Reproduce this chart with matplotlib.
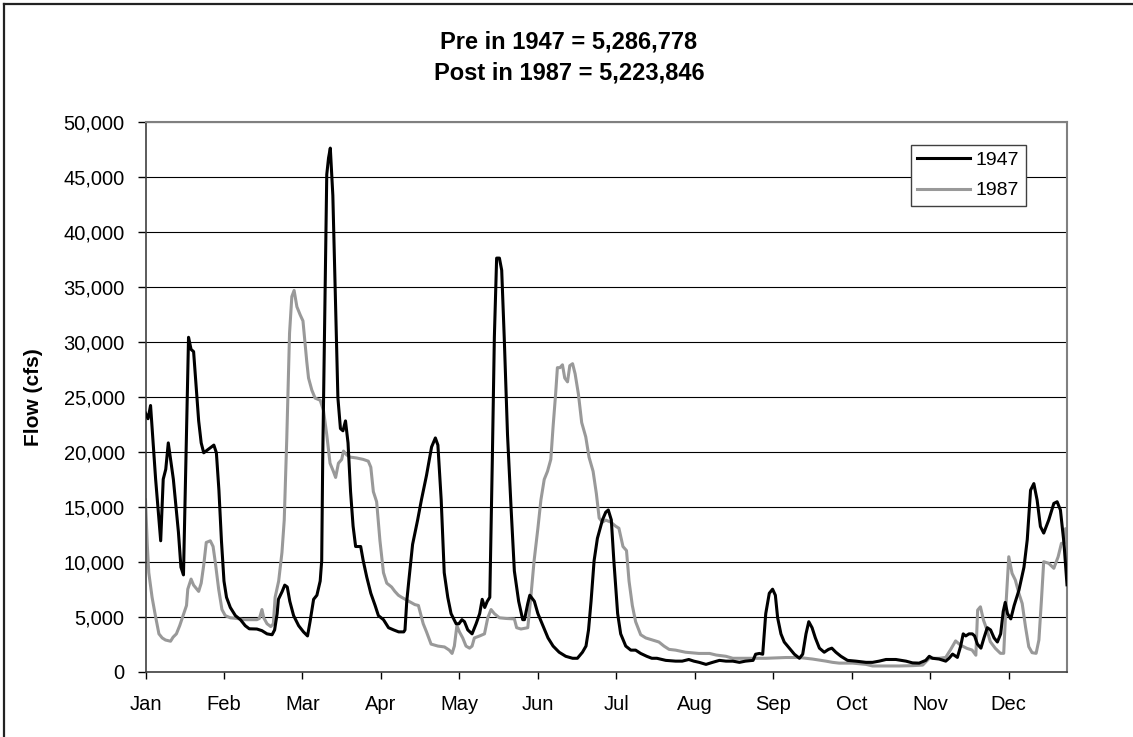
import matplotlib
matplotlib.use('Agg')
import matplotlib.pyplot as plt
from matplotlib.lines import Line2D
from matplotlib.ticker import FuncFormatter

# daily flow (day of year, cfs)
days_1947 = [0, 1, 2, 4, 6, 7, 8, 9, 11, 13, 14, 15, 17, 18, 19, 20, 21, 22, 23, 25,
             27, 28, 29, 30, 31, 32, 33.5, 35.5, 37.5, 39.4, 41, 44, 46, 48, 50, 51, 52, 52.5, 54, 55,
             56, 57, 58.5, 60.5, 62.4, 64, 65, 66.4, 67.7, 69, 69.6, 70, 70.7, 71.6, 72.3, 73, 74, 75, 76, 77,
             78, 79, 80, 81, 82, 83, 85, 86, 87.4, 89, 90.7, 92, 94, 96, 98, 100, 102, 102.5, 103.2, 104,
             105.5, 107.5, 109, 111, 113, 114.5, 115.5, 116.8, 118, 119.4, 120.7, 122.7, 123.8, 125, 126, 127.3, 129, 130.6, 132, 133,
             134, 135, 136, 137, 137.8, 138.7, 139.8, 140.7, 141.7, 143, 144.4, 145.7, 147.4, 149, 149.7, 151, 151.8, 153.6, 155, 157,
             159, 161, 163.4, 166, 168.7, 170.6, 172.6, 174, 175, 176, 177.2, 178.5, 180.5, 181.8, 182.8, 184, 185, 186.5, 187.7, 189.7,
             191.7, 193.6, 195.6, 198, 200, 202, 205.5, 209.4, 212, 214.6, 216.6, 218.7, 221.4, 224, 226.7, 229.3, 232, 234.6, 237, 240,
             241, 242.5, 243.8, 245, 246.4, 247.7, 248.8, 249.7, 251, 252.3, 254.3, 256.3, 258.3, 259.6, 260.9, 262, 263.3, 264.6, 266.2, 268.1,
             269.8, 271.1, 272.7, 274.7, 277.3, 280.6, 284.6, 287.2, 289.8, 292.5, 296.4, 300.4, 303, 305.6, 308.2, 309.6, 310.9, 313.5, 316.1, 317.4,
             318.8, 320.7, 322, 323, 324, 325.3, 326.6, 327.5, 328.6, 330, 331.2, 332.5, 333.8, 335.2, 336.5, 337.8, 338.8, 339.6, 340.5, 341.8,
             343.1, 345, 347, 348.3, 349.6, 350.9, 352.2, 353.5, 354.8, 356.8, 358.8, 360.1, 361.4, 362.8, 364]
flow_1947 = [23500, 23000, 24200, 17500, 11900, 17500, 18400, 20800, 17500, 12700, 9500, 8800, 30400, 29300, 29100, 26000, 22800, 20800, 19900, 20250,
             20600, 19900, 16500, 11900, 8240, 6760, 5840, 5100, 4730, 4180, 3900, 3880, 3730, 3440, 3360, 3800, 5280, 6580, 7300, 7870,
             7700, 6400, 5100, 4180, 3620, 3250, 4545, 6580, 6950, 8240, 10090, 19300, 30400, 45200, 46700, 47600, 43300, 34100, 24900, 22100,
             21900, 22800, 20800, 16370, 13230, 11380, 11380, 10090, 8600, 7130, 6020, 5100, 4730, 4000, 3800, 3620, 3620, 3800, 6400, 8240,
             11570, 13800, 15630, 17850, 20430, 21250, 20600, 15630, 9000, 6760, 5280, 4360, 4360, 4730, 4545, 3800, 3440, 4360, 5280, 6580,
             5840, 6400, 6760, 19300, 30400, 37600, 37600, 36500, 30400, 21540, 14900, 9160, 6400, 4730, 4730, 6200, 6950, 6400, 5280, 4180,
             3070, 2330, 1770, 1400, 1220, 1220, 1770, 2330, 3800, 6400, 10090, 12120, 13800, 14500, 14700, 13800, 10090, 5280, 3440, 2330,
             1960, 1960, 1660, 1400, 1220, 1220, 1030, 960, 960, 1110, 960, 850, 665, 850, 1030, 960, 960, 850, 960, 1030,
             1590, 1660, 1590, 5280, 7130, 7500, 6950, 4900, 3440, 2700, 2140, 1590, 1220, 1590, 3440, 4545, 4000, 3070, 2140, 1770,
             2030, 2140, 1770, 1400, 1030, 960, 850, 850, 960, 1110, 1110, 960, 800, 780, 1030, 1400, 1220, 1150, 960, 1220,
             1600, 1300, 2330, 3440, 3250, 3440, 3440, 3250, 2510, 2140, 3070, 4000, 3800, 3070, 2700, 3440, 5470, 6300, 5280, 4800,
             6000, 7400, 9500, 12000, 16500, 17100, 15600, 13200, 12600, 13800, 15300, 15450, 14700, 11700, 7900]

days_1987 = [0, 0.7, 1.3, 2.6, 3.9, 5.3, 6.6, 7.9, 9.9, 10.9, 12.2, 13.5, 15.1, 16.2, 16.7, 18, 19, 21, 22, 23,
             24, 25.6, 26.7, 27.6, 28.9, 30.2, 31.5, 33.5, 36.1, 38.8, 41.4, 44, 45, 46, 46.7, 48, 49.5, 50.5, 51.2, 52.6,
             53.9, 54.8, 55.8, 56.9, 57.8, 58.7, 59.8, 61.1, 62.2, 62.8, 63.7, 64.4, 65.7, 67, 69, 70.3, 71.6, 72.9, 74.2, 75.1,
             76.2, 77.5, 78.2, 79.5, 80.8, 83.4, 86, 88, 89, 90, 91.3, 92.6, 94, 95.3, 97.2, 98.5, 99.9, 101.2, 104, 106.4,
             107.8, 109.7, 111, 112.8, 115.5, 118.1, 120, 121.1, 122, 123, 124, 125.3, 126.6, 128, 129, 129.9, 132, 133.9, 135.2, 136.5,
             137.8, 139.8, 142.4, 145.7, 146.6, 148.3, 151, 152.2, 153.5, 155, 156.2, 157.5, 158.8, 160.1, 161, 162, 162.7, 163.7, 164.7, 165.6,
             166.7, 167.6, 168.7, 169.7, 171, 172.3, 173.9, 175.2, 176.8, 178.1, 179.2, 180.5, 181.8, 183.8, 185.7, 187, 188.6, 190, 191, 192.3,
             193.6, 195.6, 197.6, 200.2, 202.8, 204.8, 206.8, 209.4, 213.3, 218.6, 222.8, 225.4, 229.3, 232, 245, 253, 258.3, 263.5, 268.8, 271.4,
             274, 279.3, 284.6, 287.2, 297.7, 303, 307, 309.6, 313.5, 316.1, 318, 320, 321.9, 324.5, 326.5, 328, 328.7, 329.8, 331, 332.4,
             333.7, 335.7, 337.7, 339, 340, 341, 342.3, 343.6, 345, 346.3, 347.6, 348.9, 350.2, 351.8, 352.9, 353.9, 354.8, 356.8, 358.8, 360.5,
             361.8, 362.8, 363.4, 364]
flow_1987 = [15630, 11570, 9000, 6760, 5100, 3440, 3070, 2880, 2770, 3140, 3440, 4180, 5280, 6020, 7500, 8420, 7870, 7300, 8050, 9700,
             11750, 11900, 11380, 9900, 7500, 5650, 5100, 4900, 4840, 4730, 4730, 4730, 4840, 5650, 4900, 4360, 4100, 4360, 6760, 8240,
             10830, 13780, 21170, 30780, 34100, 34660, 33180, 32440, 31890, 30400, 28190, 26700, 25600, 24870, 24680, 23760, 21540, 18950, 18220, 17660,
             18950, 19300, 20060, 19700, 19510, 19430, 19300, 19140, 18590, 16370, 15450, 11930, 9000, 8050, 7700, 7300, 6950, 6760, 6400, 6100,
             6020, 4360, 3620, 2510, 2330, 2250, 1960, 1660, 2330, 4180, 3620, 3070, 2330, 2140, 2330, 3070, 3250, 3440, 4900, 5650,
             5280, 4900, 4840, 4800, 4000, 3880, 4000, 6760, 10090, 13040, 15630, 17480, 18220, 19300, 22280, 25240, 27640, 27640, 27900, 26700,
             26350, 27820, 28000, 27080, 25240, 22650, 21350, 19500, 18220, 16180, 13970, 13600, 13780, 13600, 13230, 13040, 11380, 11010, 8240, 6020,
             4545, 3360, 3070, 2880, 2700, 2330, 2030, 1960, 1770, 1660, 1660, 1515, 1400, 1220, 1220, 1290, 1290, 1150, 960, 850,
             780, 780, 665, 520, 520, 550, 600, 1220, 1220, 1300, 2000, 2800, 2420, 2120, 1970, 1500, 5600, 5900, 4700, 3790,
             2730, 2120, 1670, 1670, 6500, 10450, 8940, 8330, 7120, 6200, 4090, 2270, 1730, 1670, 2880, 6500, 10000, 9850, 9400, 10450,
             11670, 11670, 13000, 12800]

months = ['Jan', 'Feb', 'Mar', 'Apr', 'May', 'Jun', 'Jul', 'Aug', 'Sep', 'Oct', 'Nov', 'Dec']

plt.rcParams['font.family'] = ['Liberation Sans', 'DejaVu Sans']

W, H = 1133, 737
fig = plt.figure(figsize=(W / 100.0, H / 100.0), dpi=100)
ax = fig.add_axes([145.5 / W, 65.3 / H, 921.5 / W, 550.0 / H])

ax.plot(days_1947, flow_1947, color='black', lw=2.2, label='1947', zorder=3)
ax.plot(days_1987, flow_1987, color='#999999', lw=2.2, label='1987', zorder=2)

ax.set_xlim(0, 364)
ax.set_ylim(0, 50000)
ax.set_yticks(range(0, 50001, 5000))
ax.yaxis.set_major_formatter(FuncFormatter(lambda v, p: '{:,.0f}'.format(v)))
ax.set_xticks(range(0, 342, 31))
ax.set_xticklabels(months)
ax.grid(axis='y', color='black', lw=0.8, zorder=0)
ax.set_axisbelow(True)
ax.tick_params(axis='y', direction='out', length=6, width=1, labelsize=14.5, pad=9)
ax.tick_params(axis='x', direction='out', length=5, width=1, labelsize=14.5, pad=12)
for s in ['top', 'right']:
    ax.spines[s].set_color('#808080')
    ax.spines[s].set_linewidth(1.5)
for s in ['left', 'bottom']:
    ax.spines[s].set_color('#404040')
    ax.spines[s].set_linewidth(1.2)

ax.set_ylabel('Flow (cfs)', fontsize=15, fontweight='bold')
ax.yaxis.set_label_coords((43 - 145.5) / 921.5, 0.5)

leg = ax.legend(loc='upper right', bbox_to_anchor=(0.9555, 0.958), borderaxespad=0, fontsize=14,
                handlelength=2.7, handletextpad=0.3, borderpad=0.35, labelspacing=0.65,
                fancybox=False, framealpha=1, edgecolor='#404040')
leg.get_frame().set_linewidth(1)

fig.text(569.0 / W, 1 - 41.7 / H, 'Pre in 1947 = 5,286,778', ha='center', va='center',
         fontsize=17, fontweight='bold')
fig.text(569.0 / W, 1 - 73.0 / H, 'Post in 1987 = 5,223,846', ha='center', va='center',
         fontsize=17, fontweight='bold')

# chart border: only top and left edges are inside the picture
fig.lines.append(Line2D([3.5 / W, 1], [1 - 3.5 / H, 1 - 3.5 / H], transform=fig.transFigure,
                        color='#222222', lw=1.6))
fig.lines.append(Line2D([3.5 / W, 3.5 / W], [0, 1 - 3.5 / H], transform=fig.transFigure,
                        color='#222222', lw=1.6))

fig.savefig('out.png', dpi=100)
